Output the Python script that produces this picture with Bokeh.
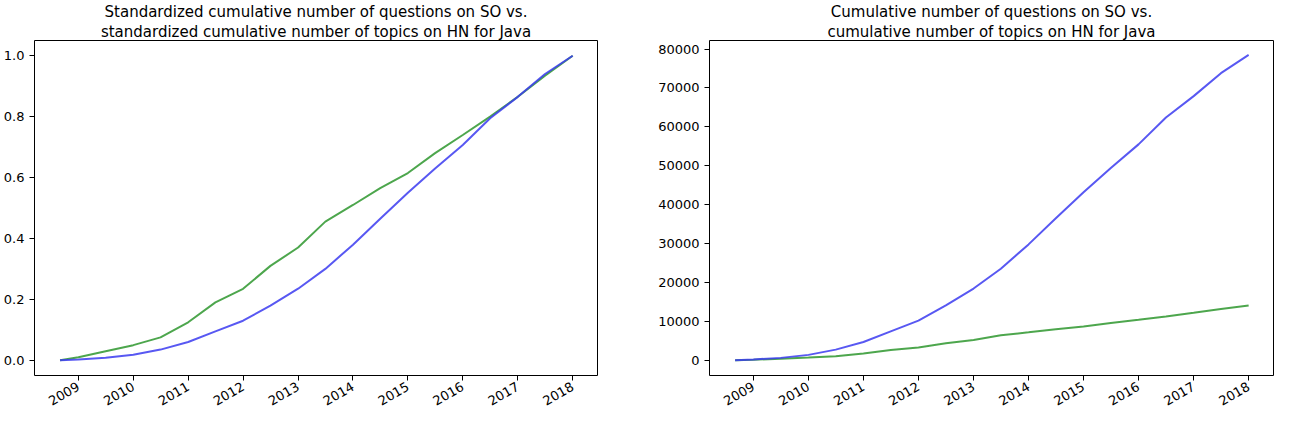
from datetime import datetime
from math import pi
from bokeh.plotting import figure
from bokeh.layouts import row
from bokeh.models import Title, DatetimeTickFormatter, FixedTicker, Range1d, PrintfTickFormatter
from bokeh.embed import file_html
from bokeh.resources import INLINE

# half-year sample points
dates = ["2008-09", "2009-01", "2009-07", "2010-01", "2010-07", "2011-01", "2011-07",
         "2012-01", "2012-07", "2013-01", "2013-07", "2014-01", "2014-07", "2015-01",
         "2015-07", "2016-01", "2016-07", "2017-01", "2017-07", "2018-01"]
so_cum = [0, 220, 630, 1400, 2750, 4700, 7450, 10200, 14100, 18450, 23550, 29800,
          36500, 43200, 49450, 55500, 62400, 67900, 73800, 78500]
hn_cum = [0, 140, 420, 700, 1060, 1760, 2680, 3310, 4370, 5220, 6420, 7190, 7970,
          8670, 9590, 10430, 11280, 12200, 13180, 14100]
years = list(range(2009, 2019))

x = [datetime.strptime(d, "%Y-%m") for d in dates]
so_std = [v / so_cum[-1] for v in so_cum]
hn_std = [v / hn_cum[-1] for v in hn_cum]

BLUE = "#3b3bf0"
GREEN = "#2e962e"
FONT = "DejaVu Sans"


def make_fig(title_lines, ys, yr, yticks, fw, bl, br):
    p = figure(frame_width=fw, frame_height=335, x_axis_type="datetime", output_backend="svg",
               toolbar_location=None, min_border_left=bl, min_border_right=br,
               min_border_top=10, min_border_bottom=40)
    for t in reversed(title_lines):
        p.add_layout(Title(text=t, align="center", text_font=FONT,
                           text_font_size="15px", text_font_style="normal",
                           text_color="black", standoff=0), "above")
    p.x_range = Range1d(datetime(2008, 3, 15), datetime(2018, 6, 15))
    p.y_range = Range1d(*yr)
    p.line(x, ys[0], color=GREEN, line_width=2, alpha=0.85)
    p.line(x, ys[1], color=BLUE, line_width=2, alpha=0.85)
    p.xgrid.grid_line_color = None
    p.ygrid.grid_line_color = None
    p.outline_line_color = "black"
    p.xaxis.ticker = FixedTicker(ticks=[datetime(y, 1, 1).timestamp() * 1000 for y in years])
    p.xaxis.formatter = DatetimeTickFormatter(years="%Y", months="%Y", days="%Y")
    p.xaxis.major_label_orientation = pi / 6
    p.yaxis.ticker = FixedTicker(ticks=yticks)
    for ax in (p.xaxis, p.yaxis):
        ax.minor_tick_line_color = None
        ax.major_label_text_font = FONT
        ax.major_label_text_font_size = "13px"
        ax.major_label_text_color = "black"
        ax.major_tick_out = 5
        ax.major_tick_in = 0
        ax.axis_line_color = None
    return p


p1 = make_fig(["Standardized cumulative number of questions on SO vs.",
               "standardized cumulative number of topics on HN for Java"],
              [hn_std, so_std], (-0.05, 1.05), [0, 0.2, 0.4, 0.6, 0.8, 1.0], 563, 30, 39)
p1.yaxis.formatter = PrintfTickFormatter(format="%.1f")

p2 = make_fig(["Cumulative number of questions on SO vs.",
               "cumulative number of topics on HN for Java"],
              [hn_cum, so_cum], (-3900, 82200), list(range(0, 80001, 10000)), 564, 73, 14)
p2.yaxis.formatter = PrintfTickFormatter(format="%d")

layout = row(p1, p2)
open("out.html", "w").write(file_html(layout, INLINE))
